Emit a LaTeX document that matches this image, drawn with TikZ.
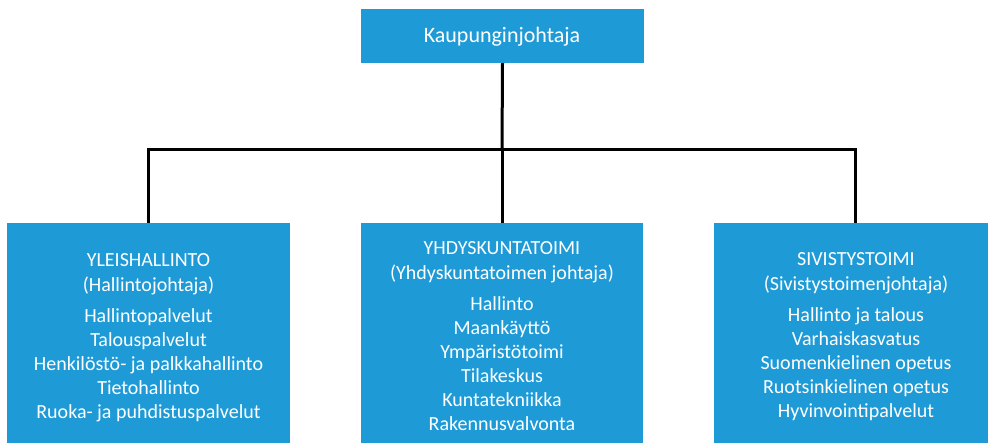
\documentclass[tikz,border=0pt]{standalone}
\usepackage{fontspec}
\setmainfont{Carlito}
\definecolor{boxblue}{RGB}{30,155,215}
\begin{document}
\begin{tikzpicture}[x=1pt,y=1pt,
  unit/.style={rectangle,fill=boxblue,draw=none,inner sep=0pt},
  boxtext/.style={text=white,align=center,inner sep=0pt,anchor=base,font=\fontsize{20}{24}\selectfont},
  conn/.style={line width=3pt,black,line join=miter}]
\useasboundingbox (0,0) rectangle (988,443);
\fill[white] (0,0) rectangle (988,443);
% top box
\node[unit,minimum width=283pt,minimum height=54pt] (top) at (502.5,407) {};
\node[text=white,inner sep=0pt,anchor=base,font=\fontsize{22}{24}\selectfont] (toptext) at (502,400) {Kaupunginjohtaja};
% bottom boxes
\node[unit,minimum width=283pt,minimum height=230pt,anchor=north] (left) at (148.5,220) {};
\node[unit,minimum width=282pt,minimum height=230pt,anchor=north] (mid) at (502,220) {};
\node[unit,minimum width=283pt,minimum height=230pt,anchor=north] (right) at (855.5,220) {};
% texts
\node[boxtext] (lefttext) at (148.5,24) {YLEISHALLINTO\\[1pt](Hallintojohtaja)\\[7pt]Hallintopalvelut\\Talouspalvelut\\Henkilöstö- ja palkkahallinto\\Tietohallinto\\Ruoka- ja puhdistuspalvelut};
\node[boxtext] (midtext) at (502,12) {YHDYSKUNTATOIMI\\[1pt](Yhdyskuntatoimen johtaja)\\[7pt]Hallinto\\Maankäyttö\\Ympäristötoimi\\Tilakeskus\\Kuntatekniikka\\Rakennusvalvonta};
\node[boxtext] (righttext) at (856,25) {SIVISTYSTOIMI\\[1pt](Sivistystoimenjohtaja)\\[7pt]Hallinto ja talous\\Varhaiskasvatus\\Suomenkielinen opetus\\Ruotsinkielinen opetus\\Hyvinvointipalvelut};
% connectors
\coordinate (bus) at (502,293);
\draw[conn] (top.south) -- (bus);
\draw[conn] (left.north) |- (bus) -| (right.north);
\draw[conn] (bus) -- (mid.north);
\end{tikzpicture}
\end{document}
